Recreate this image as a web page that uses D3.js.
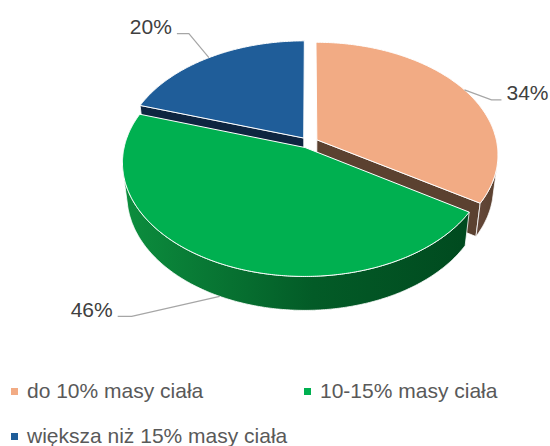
<!DOCTYPE html>
<html>
<head>
<meta charset="utf-8">
<script src="https://cdn.jsdelivr.net/npm/d3@7"></script>
<style>
  body { margin: 0; background: #fff; }
  text { font-family: "Liberation Sans", Arial, sans-serif; }
</style>
</head>
<body>
<div id="chart_wrapper"></div>
<script>
var categories = ["do 10% masy ciała", "10-15% masy ciała", "większa niż 15% masy ciała"];
var values = [34, 46, 20];
var labels = ["34%", "46%", "20%"];
var topColors = ["#F2AB84", "#00B050", "#1F5D99"];
var sideColors = [["#65483A", "#5B4130"], ["#0C8E3E", "#004A1F"], ["#122C4A", "#0E2540"]];

var width = 550, height = 446;

// 3d projection settings
var cx = 309, cy = 142.5, S = 180;
var phi = 38 * Math.PI / 180, q = 0.164, depth = 0.235, explode = 0.05;
var cam = [0, -Math.cos(phi) / q, Math.sin(phi) / q];

function proj(p) {
    var yc = p[1] * Math.sin(phi) + p[2] * Math.cos(phi);
    var zc = 1 + (p[1] * Math.cos(phi) - p[2] * Math.sin(phi)) * q;
    return [cx + S * p[0] / zc, cy - S * yc / zc];
}

var svg = d3.select("#chart_wrapper").append("svg")
    .attr("width", width).attr("height", height);

var defs = svg.append("defs");
sideColors.forEach(function(c, i) {
    var g = defs.append("linearGradient").attr("id", "side" + i)
        .attr("x1", 0).attr("x2", 1).attr("y1", 0).attr("y2", 0);
    g.append("stop").attr("offset", "0%").attr("stop-color", c[0]);
    g.append("stop").attr("offset", "55%").attr("stop-color", d3.interpolateRgb(c[0], c[1])(0.75));
    g.append("stop").attr("offset", "100%").attr("stop-color", c[1]);
});

var pie = d3.pie().sort(null).value(function(d) { return d; })
    .startAngle(0).endAngle(2 * Math.PI);
var arcs = pie(values);

var line = d3.line();
var faces = [];
var tops = [];

arcs.forEach(function(d, i) {
    var mid = (d.startAngle + d.endAngle) / 2;
    var off = [explode * Math.sin(mid), explode * Math.cos(mid)];
    d.off = off;
    function rim(a, z) { return [off[0] + Math.sin(a), off[1] + Math.cos(a), z]; }
    var ctr = function(z) { return [off[0], off[1], z]; };

    var n = Math.max(4, Math.ceil((d.endAngle - d.startAngle) / 0.01));
    var angles = d3.range(n + 1).map(function(k) { return d.startAngle + (d.endAngle - d.startAngle) * k / n; });

    // top face
    var topPts = [ctr(0)].concat(angles.map(function(a) { return rim(a, 0); }));
    tops.push({ pts: topPts, fill: topColors[i] });

    // outer side, visible part only
    var run = [];
    var runs = [];
    angles.forEach(function(a) {
        var vis = -Math.cos(a) * Math.cos(phi) / q > 1 + Math.sin(a) * off[0] + Math.cos(a) * off[1];
        if (vis) run.push(a);
        else if (run.length) { runs.push(run); run = []; }
    });
    if (run.length) runs.push(run);
    runs.forEach(function(r) {
        if (r.length < 2) return;
        var pts = r.map(function(a) { return rim(a, 0); })
            .concat(r.slice().reverse().map(function(a) { return rim(a, -depth); }));
        faces.push({ pts: pts, fill: "url(#side" + i + ")", c: rim((r[0] + r[r.length - 1]) / 2, -depth / 2) });
    });

    // cut faces (radial walls)
    [[d.startAngle, [-Math.cos(d.startAngle), Math.sin(d.startAngle)]],
     [d.endAngle, [Math.cos(d.endAngle), -Math.sin(d.endAngle)]]].forEach(function(e) {
        var nn = e[1];
        var dot = nn[1] * cam[1] - (nn[0] * off[0] + nn[1] * off[1]);
        if (dot < 0.5) return;
        var pts = [ctr(0), rim(e[0], 0), rim(e[0], -depth), ctr(-depth)];
        var c = rim(e[0], -depth / 2);
        c = [(c[0] + off[0]) / 2, (c[1] + off[1]) / 2, c[2]];
        faces.push({ pts: pts, fill: sideColors[i][1], c: c });
    });
});

// farthest first
faces.forEach(function(f) {
    f.dist = Math.hypot(f.c[0] - cam[0], f.c[1] - cam[1], f.c[2] - cam[2]);
});
faces.sort(function(a, b) { return b.dist - a.dist; });

var pieG = svg.append("g");
pieG.selectAll(".side").data(faces).enter().append("path")
    .attr("class", "side")
    .attr("d", function(f) { return line(f.pts.map(proj)) + "Z"; })
    .attr("fill", function(f) { return f.fill; })
    .attr("stroke", "#fff").attr("stroke-width", 0.8).attr("stroke-linejoin", "round");

pieG.selectAll(".top").data(tops).enter().append("path")
    .attr("class", "top")
    .attr("d", function(f) { return line(f.pts.map(proj)) + "Z"; })
    .attr("fill", function(f) { return f.fill; })
    .attr("stroke", "#fff").attr("stroke-width", 1).attr("stroke-linejoin", "round");

// data labels with leader lines
var labelOpts = [
    { z: 0, elbow: [27, 10], tail: 10, anchor: "start" },
    { z: -depth, elbow: [-88, 20], tail: -14, anchor: "end" },
    { z: 0, elbow: [-20, -24], tail: -12, anchor: "end" }
];
var lab = svg.append("g");
arcs.forEach(function(d, i) {
    var o = labelOpts[i];
    var mid = (d.startAngle + d.endAngle) / 2;
    var p0 = proj([d.off[0] + Math.sin(mid), d.off[1] + Math.cos(mid), o.z]);
    var p1 = [p0[0] + o.elbow[0], p0[1] + o.elbow[1]];
    var p2 = [p1[0] + o.tail, p1[1]];
    lab.append("path").attr("d", line([p0, p1, p2]))
        .attr("fill", "none").attr("stroke", "#A6A6A6").attr("stroke-width", 1.2);
    lab.append("text")
        .attr("x", p2[0] + (o.anchor == "start" ? 5 : -5))
        .attr("y", p2[1] + 0.5)
        .attr("text-anchor", o.anchor)
        .attr("font-size", 21).attr("fill", "#404040")
        .text(labels[i]);
});

// legend
var legendPos = [[11, 388], [304, 388], [11, 433]];
var legend = svg.selectAll(".legend").data(categories).enter().append("g")
    .attr("class", "legend")
    .attr("transform", function(d, i) { return "translate(" + legendPos[i][0] + "," + legendPos[i][1] + ")"; });
legend.append("rect").attr("width", 7).attr("height", 7)
    .attr("fill", function(d, i) { return topColors[i]; });
legend.append("text").attr("x", 16).attr("y", 10)
    .attr("font-size", 21).attr("fill", "#595959")
    .text(function(d) { return d; });
</script>
</body>
</html>
